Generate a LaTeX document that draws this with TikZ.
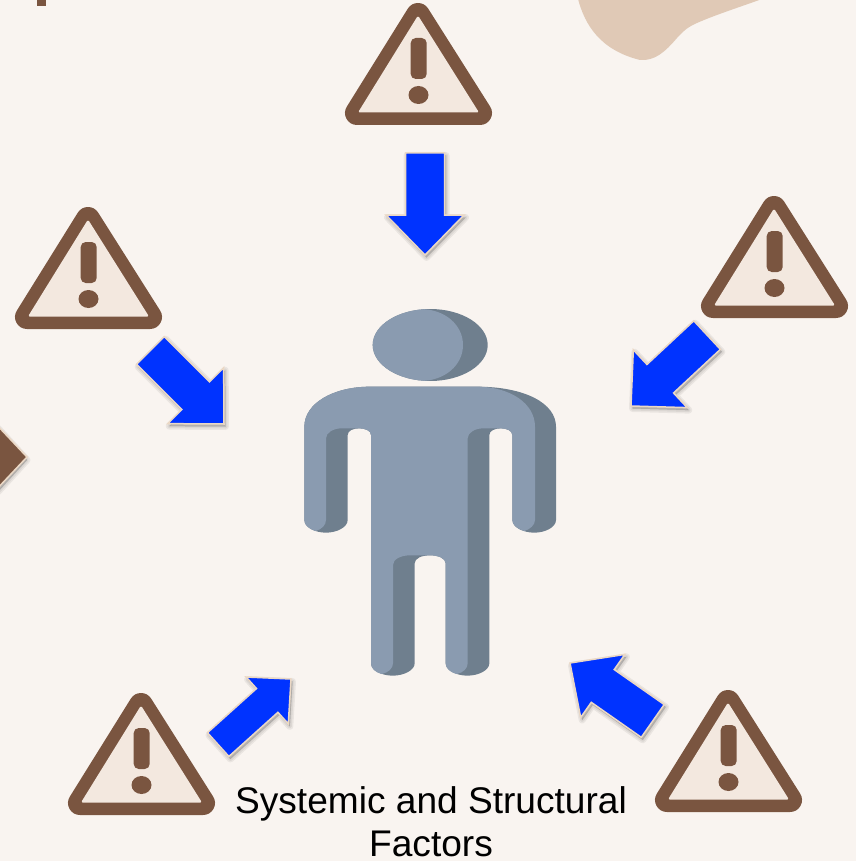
\documentclass[tikz,border=0pt]{standalone}
\usepackage{fontspec}
\setmainfont{Liberation Sans}
\definecolor{pagebg}{HTML}{F9F4F0}
\definecolor{blobc}{HTML}{E0C9B6}
\definecolor{brownc}{HTML}{7A5540}
\definecolor{warnfill}{HTML}{F3E8DF}
\definecolor{bluec}{HTML}{0033FF}
\definecolor{edgec}{HTML}{EBD8C5}
\definecolor{bodylight}{HTML}{8A9BB0}
\definecolor{bodydark}{HTML}{6F7F8E}
\tikzset{
  shadowlayer/.style={draw=black,fill=black,opacity=0.06,line join=round},
  blockedge/.style={draw=edgec,line width=1.5pt,line join=miter},
}
\newcommand{\warnsign}[2]{%
  \begin{scope}[shift={(#1,#2)}]
    \draw[brownc,fill=brownc,line width=24pt,line join=round] (418,15) -- (357,113) -- (480,113) -- cycle;
    \fill[warnfill,rounded corners=1.5pt] (418,15.5) -- (358,112.5) -- (479,112.5) -- cycle;
    \fill[brownc,rounded corners=5pt] (410.7,38) rectangle (426.7,79);
    \fill[brownc] (418.5,95) ellipse [x radius=10,y radius=9];
  \end{scope}}
% tip x, tip y, angle, length, shaft half width, head half width, head length
\newcommand{\blockshape}[5]{(-#1,-#2) -- (-#4,-#2) -- (-#4,-#3) -- (0,0) -- (-#4,#3) -- (-#4,#2) -- (-#1,#2) -- cycle}
\newcommand{\blockarrow}[7]{%
  \foreach \lw in {7,4,1}{%
    \begin{scope}[shift={(1.5,2.5)}]\begin{scope}[shift={(#1,#2)},rotate=#3]
      \path[shadowlayer,line width=\lw pt] \blockshape{#4}{#5}{#6}{#7}{};
    \end{scope}\end{scope}}
  \begin{scope}[shift={(#1,#2)},rotate=#3]
    \path[blockedge,fill=bluec] \blockshape{#4}{#5}{#6}{#7}{};
  \end{scope}}
\begin{document}
\begin{tikzpicture}[x=1pt,y=-1pt]
\useasboundingbox (0,0) rectangle (856,861);
\clip (0,0) rectangle (856,861);
\fill[pagebg] (0,0) rectangle (856,861);
% decorative blob and cut-off marks
\fill[blobc] (578,-1) .. controls (585,25) and (600,50) .. (640,60)
  .. controls (655,61) and (665,52) .. (677,38)
  .. controls (685,29) and (690,26) .. (697,23)
  .. controls (715,15) and (740,7) .. (762,-1) -- cycle;
\fill[brownc] (37,-1) rectangle (46,6);
\foreach \lw in {7,4,1}{\path[shadowlayer,line width=\lw pt] (-5,425) -- (27,460) -- (-5,495) -- cycle;}
\path[blockedge,fill=brownc] (-5,423) -- (27,457) -- (-5,491) -- cycle;
% warning signs
\warnsign{0}{0}
\warnsign{-330}{204}
\warnsign{356}{193}
\warnsign{-277}{690}
\warnsign{310}{687}
% arrows
\blockarrow{425}{255}{-90}{102}{19.5}{39}{40}
\blockarrow{224}{424}{-45}{104}{19.5}{39.5}{40}
\blockarrow{631}{406}{223}{104}{19.5}{39.5}{40}
\blockarrow{291}{679}{42}{98}{16}{31.5}{32}
\blockarrow{570}{663}{145}{101}{20}{38.5}{40}
% person
\begin{scope}
  \clip (430.2,345) ellipse [x radius=57.5,y radius=36];
  \fill[bodydark] (372,309) rectangle (488,381);
  \fill[bodylight] (372,309) -- (420,309) .. controls (445,309) and (463,325) .. (463,345)
    .. controls (463,365) and (445,381) .. (420,381) -- (372,381) -- cycle;
\end{scope}
\begin{scope}[shift={(280,290)},x=0.33333pt,y=-0.33333pt]
  \fill[bodydark] (270,290) -- (590,290) .. controls (735,290) and (828,340) .. (828,410)
    -- (828,690) .. controls (828,712) and (795,728) .. (763,728) .. controls (730,728) and (697,712) .. (697,690)
    -- (697,435) .. controls (697,422) and (680,415) .. (663,415) .. controls (645,415) and (628,422) .. (628,435)
    -- (628,1120) .. controls (628,1141) and (595,1157) .. (562,1157) .. controls (530,1157) and (497,1141) .. (497,1120)
    -- (497,820) .. controls (497,805) and (475,796) .. (450,796) .. controls (425,796) and (404,805) .. (404,820)
    -- (404,1120) .. controls (404,1141) and (371,1157) .. (338,1157) .. controls (305,1157) and (273,1141) .. (273,1120)
    -- (273,435) .. controls (273,422) and (255,415) .. (238,415) .. controls (220,415) and (203,422) .. (203,435)
    -- (203,690) .. controls (203,712) and (170,728) .. (138,728) .. controls (105,728) and (73,712) .. (73,690)
    -- (73,410) .. controls (73,340) and (160,290) .. (270,290) -- cycle;
  \fill[bodylight] (270,290) -- (590,290) .. controls (690,290) and (765,340) .. (765,410)
    -- (765,690) .. controls (765,705) and (750,718) .. (733,723) .. controls (712,717) and (697,705) .. (697,690)
    -- (697,435) .. controls (697,422) and (680,415) .. (660,415) -- (610,415) .. controls (585,415) and (563,428) .. (563,445)
    -- (563,1120) .. controls (563,1135) and (550,1148) .. (530,1152) .. controls (510,1147) and (497,1135) .. (497,1120)
    -- (497,820) .. controls (497,805) and (475,796) .. (450,796) -- (390,796) .. controls (362,796) and (339,808) .. (339,825)
    -- (339,1120) .. controls (339,1135) and (325,1148) .. (305,1152) .. controls (285,1147) and (273,1135) .. (273,1120)
    -- (273,435) .. controls (273,422) and (255,415) .. (238,415) -- (185,415) .. controls (160,415) and (138,428) .. (138,445)
    -- (138,690) .. controls (138,705) and (125,718) .. (107,723) .. controls (85,716) and (73,705) .. (73,690)
    -- (73,410) .. controls (73,340) and (160,290) .. (270,290) -- cycle;
\end{scope}
% caption
\node[anchor=base,align=center,font=\fontsize{37.1}{43}\selectfont,inner sep=0pt,text=black] (caption) at (431,856) {Systemic and Structural\\Factors};
\end{tikzpicture}
\end{document}
